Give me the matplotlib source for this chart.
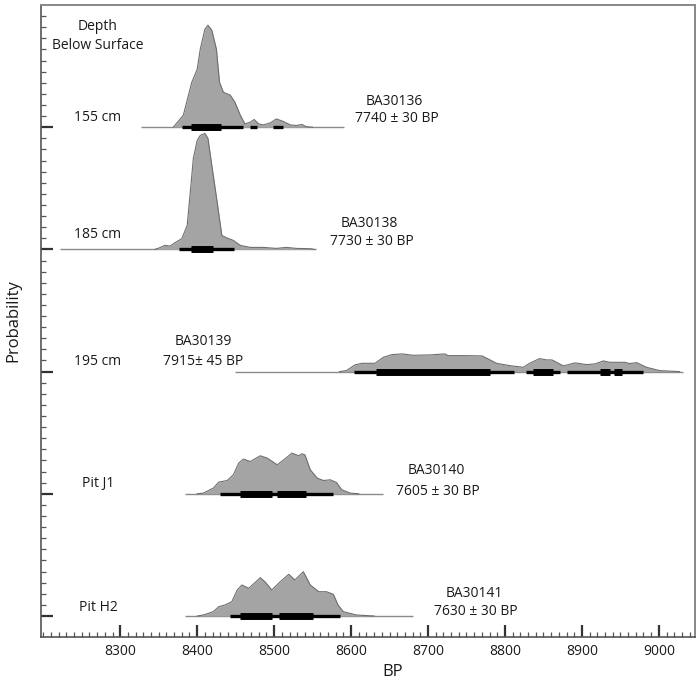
import matplotlib
matplotlib.use("Agg")
import matplotlib.pyplot as plt
import numpy as np
from matplotlib.ticker import MultipleLocator, FixedLocator

plt.rcParams['font.family'] = ['Open Sans', 'DejaVu Sans']

# ---------------- data (calibrated BP, relative probability) ----------------
labels_depth = ["155 cm", "185 cm", "195 cm", "Pit J1", "Pit H2"]
lab_codes = ["BA30136", "BA30138", "BA30139", "BA30140", "BA30141"]
lab_ages = ["7740 \u00b1 30 BP", "7730 \u00b1 30 BP", "7915\u00b1 45 BP",
            "7605 \u00b1 30 BP", "7630 \u00b1 30 BP"]

# full extent of each plotted distribution (baseline)
extent_155 = (8327, 8591)
extent_185 = (8222, 8555)
extent_195 = (8449, 9031)
extent_J1 = (8384, 8642)
extent_H2 = (8384, 8681)

bp_155 = [8369, 8382, 8393, 8400, 8404, 8410, 8414, 8419, 8425, 8429, 8434, 8443,
          8449, 8456, 8462, 8469, 8474, 8480, 8486, 8495, 8503, 8512, 8521, 8529,
          8536, 8542, 8550]
p_155 = [0, 12, 45, 58, 78, 98, 102, 97, 78, 45, 35, 32,
         25, 12, 3.3, 5, 7.7, 3.3, 2.3, 4.3, 8.3, 5.7, 2.3, 1.7,
         2.7, 0.5, 0]

bp_185 = [8345, 8350, 8358, 8365, 8371, 8380, 8387, 8391, 8395, 8400, 8404, 8410,
          8414, 8419, 8426, 8432, 8439, 8447, 8456, 8469, 8486, 8503, 8516, 8529,
          8547, 8552]
p_185 = [0, 1.3, 4, 3.3, 6.7, 10.7, 24, 57, 91, 109, 114, 116,
         111, 84, 47, 14, 11.3, 9, 4, 2, 2, 1, 2, 1,
         0.7, 0]

bp_195 = [8585, 8594, 8605, 8614, 8631, 8642, 8653, 8666, 8681, 8703, 8722, 8726,
          8746, 8770, 8778, 8789, 8806, 8824, 8832, 8845, 8854, 8861, 8876, 8891,
          8906, 8917, 8928, 8936, 8956, 8962, 8971, 8984, 9001, 9027]
p_195 = [0, 1, 6.7, 8.3, 8.3, 14.3, 17, 17.7, 16.3, 16.7, 17.7, 16,
         16, 15.7, 12.7, 8.3, 6, 4.3, 8.3, 13, 11.7, 11.7, 5.7, 8.7,
         7, 7.7, 10.7, 9.3, 9.3, 8, 9, 4.3, 1, 0]

bp_J1 = [8400, 8408, 8421, 8428, 8439, 8447, 8454, 8460, 8469, 8482, 8491, 8504,
         8517, 8523, 8532, 8536, 8540, 8547, 8556, 8564, 8573, 8581, 8588, 8599, 8610]
p_J1 = [0, 0.7, 5.7, 11.7, 13.3, 19, 30.7, 34.7, 32.3, 38, 35.7, 29,
        36.7, 40.7, 38, 40, 39, 24, 15.7, 13.3, 14, 11.3, 4, 0.7, 0]

bp_H2 = [8400, 8408, 8421, 8428, 8436, 8445, 8452, 8458, 8467, 8482, 8488, 8497,
         8508, 8519, 8527, 8538, 8547, 8558, 8568, 8577, 8583, 8590, 8607, 8630]
p_H2 = [0, 1, 4.3, 9.3, 11, 14.3, 26, 31, 27.7, 38.3, 34.3, 26,
        34.3, 41.7, 36, 44.3, 31, 24.3, 24.3, 21.7, 11, 4.3, 1, 0]

# highest posterior density ranges (95.4% thin, 68.2% thick)
r95_155 = [(8380, 8460), (8469, 8478), (8498, 8512)]
r68_155 = [(8392, 8431)]
r95_185 = [(8377, 8448)]
r68_185 = [(8392, 8421)]
r95_195 = [(8604, 8812), (8827, 8872), (8881, 8980)]
r68_195 = [(8632, 8781), (8836, 8863), (8923, 8936), (8942, 8952)]
r95_J1 = [(8429, 8577)]
r68_J1 = [(8455, 8497), (8504, 8542)]
r95_H2 = [(8443, 8586)]
r68_H2 = [(8455, 8497), (8506, 8550)]

x_ticks = [8300, 8400, 8500, 8600, 8700, 8800, 8900, 9000]

samples = [
    (bp_155, p_155, extent_155, r95_155, r68_155),
    (bp_185, p_185, extent_185, r95_185, r68_185),
    (bp_195, p_195, extent_195, r95_195, r68_195),
    (bp_J1, p_J1, extent_J1, r95_J1, r68_J1),
    (bp_H2, p_H2, extent_H2, r95_H2, r68_H2),
]

# ---------------- figure ----------------
W, H = 700, 683
fig = plt.figure(figsize=(W / 100, H / 100), dpi=100)
ax = fig.add_axes([41 / W, 46 / H, 654 / W, 632 / H])

PX_PER_UNIT = 11.11
spacing = 11
baselines = [44, 33, 22, 11, 0]

fill_c = '#a4a4a4'
edge_c = '#6e6e6e'
base_c = '#8a8a8a'

for (bp, p, ext, r95, r68), y0 in zip(samples, baselines):
    bp = np.asarray(bp, float)
    h = np.asarray(p, float) / PX_PER_UNIT
    ax.plot(ext, [y0, y0], color=base_c, lw=1.0, zorder=2, solid_capstyle='butt')
    ax.fill_between(bp, y0, y0 + h, color=fill_c, lw=0, zorder=3)
    ax.plot(bp, y0 + h, color=edge_c, lw=0.8, zorder=4, solid_joinstyle='round')
    for a, b in r95:
        ax.plot([a, b], [y0, y0], color='black', lw=2.4, solid_capstyle='butt', zorder=5)
    for a, b in r68:
        ax.plot([a, b], [y0, y0], color='black', lw=5.0, solid_capstyle='butt', zorder=6)

ax.set_xlim(8197, 9047)
ax.set_ylim(-1.89, 55)

ax.xaxis.set_major_locator(FixedLocator(x_ticks))
ax.xaxis.set_minor_locator(MultipleLocator(10))
ax.yaxis.set_major_locator(FixedLocator(baselines))
ax.yaxis.set_minor_locator(FixedLocator([v for v in range(0, 56) if v % spacing != 0]))
ax.set_yticklabels([])
ax.tick_params(axis='both', which='major', direction='in', length=8.5, width=1.6,
               color='#333333')
ax.tick_params(axis='both', which='minor', direction='in', length=3.3, width=0.9,
               color='#555555')
ax.tick_params(axis='x', which='major', labelsize=10, pad=5, labelcolor='#1a1a1a')
ax.tick_params(axis='y', which='both', left=True, right=False)
ax.tick_params(axis='x', which='both', top=False)

for s in ['left', 'bottom']:
    ax.spines[s].set_color('#555555')
    ax.spines[s].set_linewidth(1.2)
for s in ['top', 'right']:
    ax.spines[s].set_color('#888888')
    ax.spines[s].set_linewidth(1.4)

# axis titles placed in figure pixels (centre-anchored)
fig.text(393 / W, 1 - 672 / H, 'BP', fontsize=12, color='#1a1a1a',
         ha='center', va='center')
fig.text(13 / W, 1 - 321 / H, 'Probability', fontsize=12, color='#1a1a1a',
         ha='center', va='center', rotation=90)

# ---------------- annotations ----------------
def px2data(xp, yp):
    x = 8300 + (xp - 120) / 0.77
    y = (616 - yp) / PX_PER_UNIT
    return x, y

txt_kw = dict(fontsize=10, ha='center', va='center', color='#1a1a1a')

ax.text(*px2data(97, 26), 'Depth', **txt_kw)
ax.text(*px2data(97, 45), 'Below Surface', **txt_kw)

depth_pos = [(97, 117), (97, 234), (97, 361), (98, 483), (98, 607)]
for lab, (xp, yp) in zip(labels_depth, depth_pos):
    ax.text(*px2data(xp, yp), lab, **txt_kw)

code_pos = [(394, 101), (369, 223), (203, 341), (436, 470), (474, 593)]
age_pos = [(397, 118), (372, 241), (203, 361), (438, 491), (476, 611)]
for c, (xp, yp) in zip(lab_codes, code_pos):
    ax.text(*px2data(xp, yp), c, **txt_kw)
for a, (xp, yp) in zip(lab_ages, age_pos):
    ax.text(*px2data(xp, yp), a, **txt_kw)

fig.savefig('out.png', dpi=100)
